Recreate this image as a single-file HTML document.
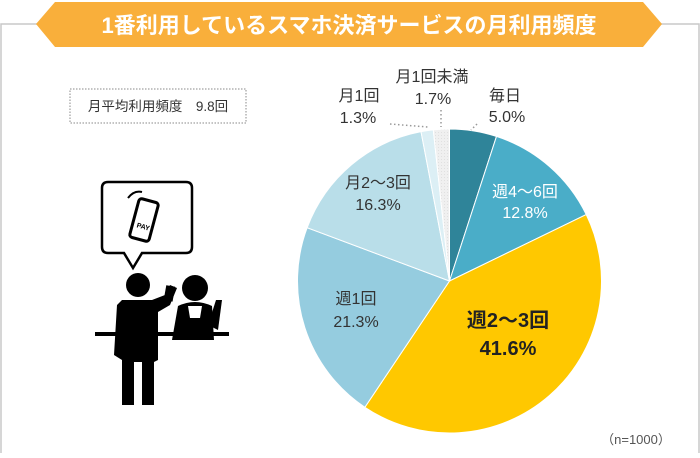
<!DOCTYPE html>
<html><head><meta charset="utf-8"><style>
body{margin:0;background:#fff;}
svg text{font-family:"Liberation Sans","Noto Sans CJK JP",sans-serif;}
</style></head><body>
<svg width="700" height="453" viewBox="0 0 700 453" xmlns="http://www.w3.org/2000/svg">
<defs>
<pattern id="dots" width="3" height="3" patternUnits="userSpaceOnUse"><rect width="3" height="3" fill="#f0f0f0"/><rect width="1" height="1" fill="#e0e0e0"/></pattern>
</defs>
<rect x="1" y="24" width="698" height="440" fill="none" stroke="#c8c8c8" stroke-width="1.5"/>
<polygon points="36,24 55,2 643,2 662,24 643,47 55,47" fill="#F9AF3B"/>
<text x="349" y="33" text-anchor="middle" font-size="22" font-weight="bold" fill="#fff">1番利用しているスマホ決済サービスの月利用頻度</text>
<rect x="70" y="89" width="176" height="34" fill="none" stroke="#888" stroke-dasharray="1.5,1.5"/>
<text x="158" y="111" text-anchor="middle" font-size="13.5" fill="#333">月平均利用頻度　9.8回</text>
<g>
<path d="M108,182 H186 Q192,182 192,188 V247 Q192,253 186,253 H142 L133,268 L124,253 H108 Q102,253 102,247 V188 Q102,182 108,182 Z" fill="#fff" stroke="#000" stroke-width="2.5"/>
<rect x="134" y="200" width="20" height="40" rx="3" transform="rotate(15 144 220)" fill="#fff" stroke="#000" stroke-width="3"/>
<text x="145" y="229" font-size="7" font-weight="bold" text-anchor="middle" transform="rotate(15 144 220)">PAY</text>
<path d="M128,198 Q134,190 142,192" fill="none" stroke="#000" stroke-width="2"/>
<circle cx="138" cy="285" r="12" fill="#000"/>
<circle cx="195" cy="288" r="13" fill="#000"/>
<path d="M172,340 L178,306 Q195,298 212,306 L214,340 Z" fill="#000"/>
<path d="M208,325 L216,300 L222,300 L218,330 Z" fill="#000"/>
<path d="M188,306 L190,318 L200,318 L202,306 Z" fill="#fff"/>
<rect x="95" y="332" width="134" height="4" fill="#000"/>
<path d="M122,300 H152 L165,295 L170,285 L177,288 L170,305 L158,312 V360 L154,362 V405 H142 V362 H134 V405 H122 V360 L114,355 L117,305 Z" fill="#000"/>
<rect x="165" y="286" width="9" height="15" fill="#000" transform="rotate(10 170 293)"/>
</g>
<g id="pie"></g>
<g fill="none" stroke="#999" stroke-width="1.5" stroke-dasharray="1.5,2.5">
<path d="M390,124 L428,127"/><path d="M441,110 V127"/><path d="M477,124 L471,130"/>
</g>
<g font-size="16" fill="#333" text-anchor="middle">
<text x="505" y="101">毎日</text><text x="507" y="122">5.0%</text>
<text x="525" y="197" fill="#fff">週4～6回</text><text x="525" y="218" fill="#fff">12.8%</text>
<text x="508" y="327" font-size="20" font-weight="bold" fill="#222">週2～3回</text><text x="508" y="355" font-size="20" font-weight="bold" fill="#222">41.6%</text>
<text x="356" y="304">週1回</text><text x="356" y="327">21.3%</text>
<text x="378" y="188">月2～3回</text><text x="378" y="210">16.3%</text>
<text x="359" y="101">月1回</text><text x="358" y="123">1.3%</text>
<text x="432" y="82">月1回未満</text><text x="433" y="104">1.7%</text>
</g>
<text x="636" y="444" text-anchor="middle" font-size="13" fill="#555">（n=1000）</text>
</svg>
<script>
const categories=["毎日","週4～6回","週2～3回","週1回","月2～3回","月1回","月1回未満"];
const values=[5.0,12.8,41.6,21.3,16.3,1.3,1.7];
const colors=["#2F8499","#4AADC8","#FFC800","#95CCDF","#B9DEE9","#DCEFF5","url(#dots)"];
const cx=449.5,cy=281,r=152;
const g=document.getElementById('pie');
const total=values.reduce((a,b)=>a+b,0);
let a=0;
values.forEach((v,i)=>{
 const a0=a/total*2*Math.PI, a1=(a+v)/total*2*Math.PI; a+=v;
 const x0=cx+r*Math.sin(a0),y0=cy-r*Math.cos(a0),x1=cx+r*Math.sin(a1),y1=cy-r*Math.cos(a1);
 const p=document.createElementNS('http://www.w3.org/2000/svg','path');
 p.setAttribute('d',`M${cx},${cy} L${x0},${y0} A${r},${r} 0 ${(a1-a0)>Math.PI?1:0} 1 ${x1},${y1} Z`);
 p.setAttribute('fill',colors[i]);p.setAttribute('stroke','#fff');p.setAttribute('stroke-width','1');
 
 
 g.appendChild(p);
});
</script>
</body></html>
